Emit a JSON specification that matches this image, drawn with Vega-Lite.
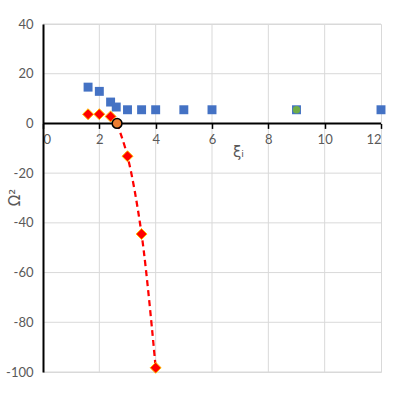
{
  "$schema": "https://vega.github.io/schema/vega-lite/v6.json",
  "autosize": {"type": "none"},
  "width": 338,
  "height": 348,
  "padding": {"left": 43, "top": 24, "right": 19, "bottom": 29},
  "background": "#FFFFFF",
  "config": {
    "font": "Lato",
    "view": {"stroke": "#D9D9D9", "strokeWidth": 1}
  },
  "datasets": {
    "squares": [
      {"xi": 1.6, "omega2": 14.6},
      {"xi": 2.0, "omega2": 12.9},
      {"xi": 2.4, "omega2": 8.6},
      {"xi": 2.6, "omega2": 6.6},
      {"xi": 3.0, "omega2": 5.5},
      {"xi": 3.5, "omega2": 5.5},
      {"xi": 4.0, "omega2": 5.5},
      {"xi": 5.0, "omega2": 5.5},
      {"xi": 6.0, "omega2": 5.5},
      {"xi": 9.0, "omega2": 5.5},
      {"xi": 12.0, "omega2": 5.5}
    ],
    "diamonds": [
      {"xi": 1.6, "omega2": 3.7},
      {"xi": 2.0, "omega2": 3.7},
      {"xi": 2.4, "omega2": 2.8},
      {"xi": 3.0, "omega2": -13.2},
      {"xi": 3.5, "omega2": -44.5},
      {"xi": 4.0, "omega2": -98.3}
    ],
    "curve": [
      {"xi": 2.63, "omega2": 0},
      {"xi": 3.0, "omega2": -13.2},
      {"xi": 3.5, "omega2": -44.5},
      {"xi": 4.0, "omega2": -98.3}
    ],
    "crit": [
      {"xi": 2.63, "omega2": 0}
    ],
    "green": [
      {"xi": 9.0, "omega2": 5.5}
    ],
    "xgrid": [
      {"xi": 2}, {"xi": 4}, {"xi": 6}, {"xi": 8}, {"xi": 10}
    ],
    "ygrid": [
      {"omega2": -100}, {"omega2": -80}, {"omega2": -60}, {"omega2": -40},
      {"omega2": -20}, {"omega2": 20}, {"omega2": 40}
    ],
    "zero": [
      {"omega2": 0}
    ]
  },
  "encoding": {
    "x": {
      "field": "xi",
      "type": "quantitative",
      "scale": {"domain": [0, 12], "nice": false, "zero": false},
      "axis": {
        "title": "ξᵢ",
        "grid": false,
        "domain": false,
        "values": [0, 2, 4, 6, 8, 10, 12],
        "offset": -248.6,
        "tickColor": "#000000",
        "tickWidth": 1.5,
        "tickSize": 5,
        "labelPadding": 5,
        "labelFont": "Lato",
        "labelFontSize": 13,
        "labelColor": "#595959",
        "titleFont": "DejaVu Sans",
        "titleFontWeight": "normal",
        "titleColor": "#595959",
        "titleFontSize": 15,
        "titleX": 195,
        "titleY": 28,
        "titleAlign": "center",
        "titleBaseline": "middle",
        "zindex": 1
      }
    },
    "y": {
      "field": "omega2",
      "type": "quantitative",
      "scale": {"domain": [-100, 40], "nice": false, "zero": false},
      "axis": {
        "title": "Ω²",
        "grid": false,
        "values": [-100, -80, -60, -40, -20, 0, 20, 40],
        "labelExpr": "replace(datum.label, '−', '-')",
        "domainColor": "#000000",
        "domainWidth": 2,
        "ticks": false,
        "labelPadding": 10,
        "labelFont": "Lato",
        "labelFontSize": 13,
        "labelColor": "#595959",
        "titleFont": "DejaVu Sans",
        "titleFontWeight": "normal",
        "titleColor": "#595959",
        "titleFontSize": 15,
        "titleX": -29,
        "titleY": 173,
        "titleAngle": -90,
        "titleAlign": "center",
        "titleBaseline": "middle",
        "zindex": 1
      }
    }
  },
  "layer": [
    {
      "data": {"name": "xgrid"},
      "mark": {"type": "rule", "color": "#D9D9D9", "strokeWidth": 1},
      "encoding": {"y": null}
    },
    {
      "data": {"name": "ygrid"},
      "mark": {"type": "rule", "color": "#D9D9D9", "strokeWidth": 1},
      "encoding": {"x": null}
    },
    {
      "data": {"name": "zero"},
      "mark": {"type": "rule", "color": "#000000", "strokeWidth": 2},
      "encoding": {"x": null}
    },
    {
      "data": {"name": "squares"},
      "mark": {"type": "point", "shape": "square", "filled": true, "size": 80, "color": "#4472C4", "opacity": 1}
    },
    {
      "data": {"name": "curve"},
      "mark": {"type": "line", "color": "#FF0000", "strokeWidth": 2.25, "strokeDash": [6, 4], "interpolate": "catmull-rom"}
    },
    {
      "data": {"name": "diamonds"},
      "mark": {"type": "point", "shape": "diamond", "filled": true, "size": 120, "fill": "#FF0000", "stroke": "#FFC000", "strokeWidth": 1, "opacity": 1}
    },
    {
      "data": {"name": "crit"},
      "mark": {"type": "point", "shape": "circle", "filled": true, "size": 95, "fill": "#ED7D31", "stroke": "#000000", "strokeWidth": 1.5, "opacity": 1}
    },
    {
      "data": {"name": "green"},
      "mark": {"type": "point", "shape": "circle", "filled": true, "size": 55, "fill": "#70AD47", "opacity": 1}
    }
  ]
}
